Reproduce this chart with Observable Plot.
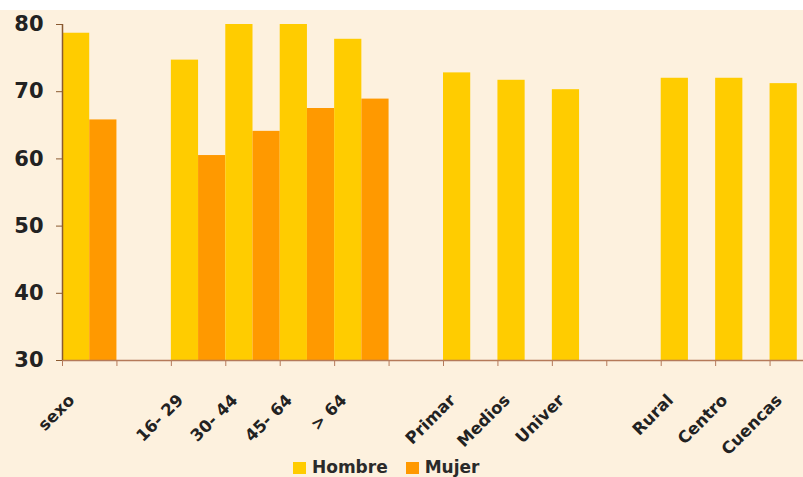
<!DOCTYPE html>
<html>
<head>
<meta charset="utf-8">
<script src="https://cdn.jsdelivr.net/npm/d3@7"></script>
<script src="https://cdn.jsdelivr.net/npm/@observablehq/plot@0.6"></script>
<style>
  html, body { margin: 0; padding: 0; background: #ffffff; }
  #wrap { position: relative; width: 803px; height: 467px; margin-top: 10px; background: #fdf1de; overflow: hidden; }
  #chart svg { display: block; max-width: none !important; }
  #legend { position: absolute; left: 293px; top: 449px; line-height: 17px; display: flex; align-items: center; font-family: "DejaVu Sans", sans-serif; font-weight: bold; font-size: 17px; color: #2a2a2a; }
  .sw { width: 13px; height: 12px; display: inline-block; margin-right: 6px; }
  .item { display: flex; align-items: center; margin-right: 18px; }
</style>
</head>
<body>
<div id="wrap">
  <div id="chart"></div>
  <div id="legend"></div>
</div>
<script>
const categories = ["sexo", "", "16- 29", "30- 44", "45- 64", "> 64", "", "Primar", "Medios", "Univer", "", "Rural", "Centro", "Cuencas"];
const series = ["Hombre", "Mujer"];
const hombre = [78.7, null, 74.7, 80, 80, 77.8, null, 72.8, 71.7, 70.3, null, 72.0, 72.0, 71.2];
const mujer  = [65.8, null, 60.5, 64.1, 67.5, 68.9, null, null, null, null, null, null, null, null];
const yTicks = [30, 40, 50, 60, 70, 80];
const colors = ["#ffcc00", "#ff9900"];

const values = [hombre, mujer];
const rows = [];
categories.forEach((c, i) => {
  series.forEach((s, j) => {
    const v = values[j][i];
    if (v != null) rows.push({cat: c, i, s, v, x1: i + j / 2, x2: i + (j + 1) / 2});
  });
});
const labelPos = categories.map((c, i) => ({c, p: i + 0.5})).filter(d => d.c !== "");
const boundaries = d3.range(categories.length + 1);

const chart = Plot.plot({
  width: 824,
  height: 465,
  marginLeft: 62,
  marginRight: 0,
  marginTop: 14,
  marginBottom: 115,
  style: {background: "transparent", fontFamily: "DejaVu Sans, sans-serif", fontWeight: "bold", color: "#222", maxWidth: "none"},
  x: {domain: [0, categories.length], axis: null},
  y: {domain: [30, 80], axis: null},
  color: {domain: series, range: colors},
  marks: [
    Plot.rectY(rows, {x1: "x1", x2: "x2", y1: 30, y2: "v", fill: "s"}),
    Plot.axisY({ticks: yTicks, tickSize: 6, tickPadding: 13, fontSize: 21, stroke: "#8a5a30", fill: "#222", label: null}),
    Plot.axisX({ticks: boundaries, tickSize: 6, tickFormat: () => "", stroke: "#b57a5a", label: null}),
    Plot.axisX({ticks: labelPos.map(d => d.p), tickSize: 0, tickPadding: 37, tickRotate: -45, fontSize: 16.5, fill: "#222", dx: -18,
      tickFormat: p => categories[Math.floor(p)], label: null}),
    Plot.ruleY([30], {stroke: "#b57a5a", strokeWidth: 1.5}),
    Plot.ruleX([0], {y1: 30, y2: 80, stroke: "#8a5a30", strokeWidth: 1.5})
  ]
});
document.getElementById("chart").appendChild(chart);

const legend = document.getElementById("legend");
series.forEach((s, j) => {
  const it = document.createElement("div");
  it.className = "item";
  const sw = document.createElement("span");
  sw.className = "sw";
  sw.style.background = colors[j];
  it.appendChild(sw);
  it.appendChild(document.createTextNode(s));
  legend.appendChild(it);
});
</script>
</body>
</html>
